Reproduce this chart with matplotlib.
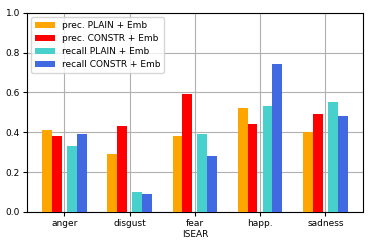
import numpy as np
import matplotlib
matplotlib.use("Agg")
import matplotlib.pyplot as plt

# data
emotions = ["anger", "disgust", "fear", "happ.", "sadness"]
prec_plain = [0.41, 0.29, 0.38, 0.52, 0.40]
prec_constr = [0.38, 0.43, 0.59, 0.44, 0.49]
recall_plain = [0.33, 0.10, 0.39, 0.53, 0.55]
recall_constr = [0.39, 0.09, 0.28, 0.74, 0.48]

series = [
    ("prec. PLAIN + Emb", prec_plain, "orange"),
    ("prec. CONSTR + Emb", prec_constr, "red"),
    ("recall PLAIN + Emb", recall_plain, "mediumturquoise"),
    ("recall CONSTR + Emb", recall_constr, "royalblue"),
]

fig = plt.figure(figsize=(3.74, 2.49), dpi=100)
ax = fig.add_axes([0.072, 0.149, 0.898, 0.800])

x = np.arange(len(emotions))
w = 0.15
offsets = [-0.265, -0.115, 0.115, 0.265]
for (lab, vals, col), off in zip(series, offsets):
    ax.bar(x + off, vals, w, color=col, label=lab, zorder=3)

ax.set_ylim(0, 1.0)
ax.set_xticks(x)
ax.set_xticklabels(emotions)
ax.set_yticks(np.arange(0, 1.01, 0.2))
ax.set_xlabel("ISEAR", fontsize=6.5, labelpad=1.5)
ax.tick_params(labelsize=6.5, length=3, pad=2)
ax.grid(True, color="#b0b0b0", linewidth=0.8, zorder=0)
ax.set_axisbelow(True)
ax.legend(loc="upper left", fontsize=6.5, handlelength=2.2,
          labelspacing=0.45, handletextpad=0.8)

plt.savefig("out.png", dpi=100)
